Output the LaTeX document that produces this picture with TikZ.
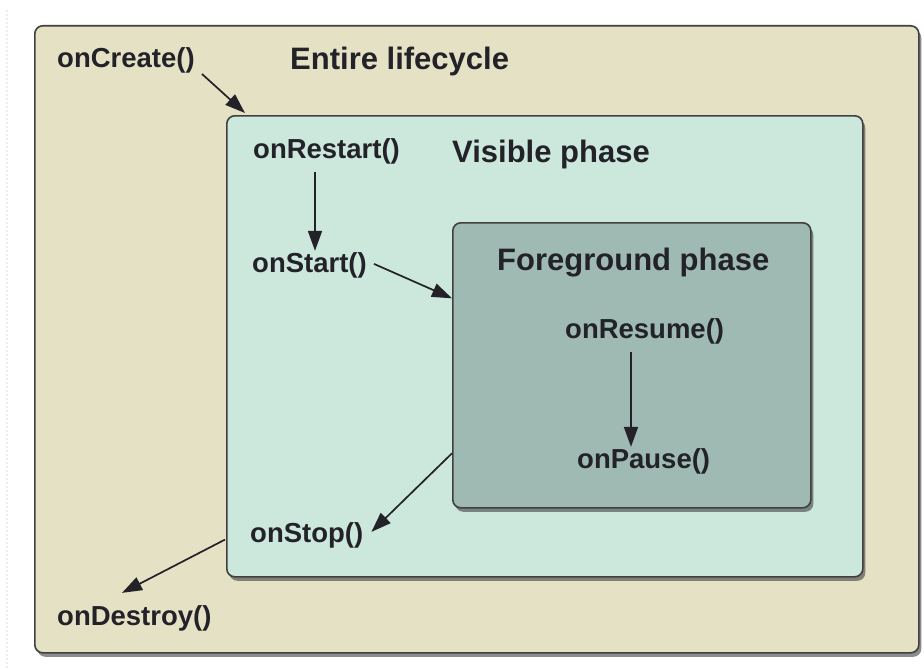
\documentclass[tikz,border=0pt]{standalone}
\usepackage{fontspec}
\setmainfont{Liberation Sans}
\usetikzlibrary{arrows.meta,shadows,calc}
\definecolor{outerc}{RGB}{229,225,197}
\definecolor{visc}{RGB}{204,231,220}
\definecolor{forec}{RGB}{158,186,178}
\definecolor{edgec}{RGB}{64,64,64}
\definecolor{inkc}{RGB}{34,34,40}
\tikzset{
  phasebox/.style={draw=edgec, line width=1.6pt, rounded corners=8pt, anchor=north west,
     inner sep=0pt, drop shadow={shadow xshift=2.5pt, shadow yshift=-4pt, opacity=0.6, fill=black!75}},
  method/.style={anchor=base west, inner sep=0pt, text=inkc, font=\bfseries\fontsize{27.5}{30}\selectfont},
  title/.style={anchor=base west, inner sep=0pt, text=inkc, font=\bfseries\fontsize{31}{34}\selectfont},
  arr/.style={draw=inkc, line width=1.7pt, -{Triangle[length=20pt,width=14pt]}}
}
\begin{document}
\begin{tikzpicture}[x=1pt,y=-1pt]
\useasboundingbox[fill=white] (0,0) rectangle (924,669);
\draw[gray!15, line width=2pt, dotted] (7,10) -- (7,669);
% boxes
\node[phasebox, fill=outerc, minimum width=884pt, minimum height=627pt] (outer) at (34,25) {};
\node[phasebox, fill=visc, minimum width=636pt, minimum height=461pt] (vis) at (226,115) {};
\node[phasebox, fill=forec, minimum width=358pt, minimum height=285pt] (fore) at (452,222) {};
% titles
\node[title] (tentire) at (290,70) {Entire lifecycle};
\node[title] (tvis) at (452,162) {Visible phase};
\node[title] (tfore) at (497,270) {Foreground phase};
% methods
\node[method] (create) at (57,67) {onCreate()};
\node[method] (restart) at (253,158) {onRestart()};
\node[method] (start) at (252,272) {onStart()};
\node[method] (resume) at (565,338) {onResume()};
\node[method] (pause) at (577,468) {onPause()};
\node[method] (stop) at (250,542) {onStop()};
\node[method] (destroy) at (57,625) {onDestroy()};
% connectors
\draw[arr] ($(create.south east)+(7,1)$) -- ($(vis.north west)+(19,-2)$);
\draw[arr] ($(restart.south west)+(62,8)$) -- ($(start.north west)+(63,-1)$);
\draw[arr] ($(start.east)+(7,-1)$) -- ($(fore.west)+(0,-67)$);
\draw[arr] ($(fore.west)+(0,88)$) -- ($(stop.east)+(8,-3)$);
\draw[arr] ($(resume.south west)+(66,8)$) -- ($(pause.north west)+(54,-1)$);
\draw[arr] ($(vis.south west)+(-1,-38)$) -- ($(destroy.north west)+(65,-12)$);
\end{tikzpicture}
\end{document}
